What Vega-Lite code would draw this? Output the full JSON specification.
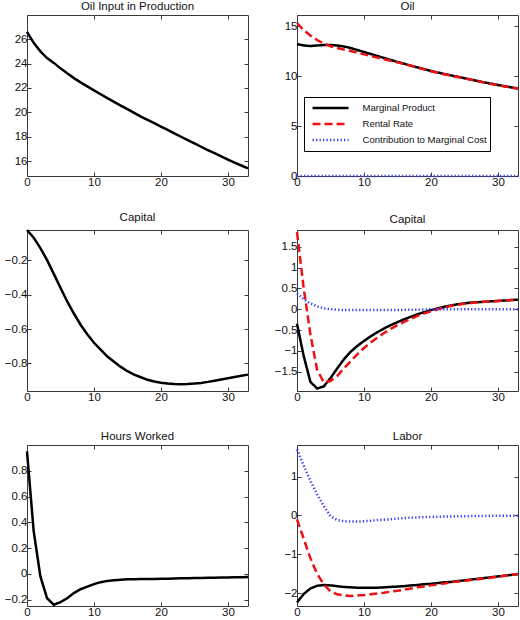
{
 "$schema": "https://vega.github.io/schema/vega-lite/v6.json",
 "padding": {"left": 3, "top": 0, "right": 0, "bottom": 0},
 "datasets": {
  "p1": [
   {"t":0,"v":26.6},{"t":1,"v":25.7},{"t":2,"v":25.0},{"t":3,"v":24.45},{"t":4,"v":24.05},{"t":5,"v":23.6},{"t":6,"v":23.2},{"t":7,"v":22.8},{"t":8,"v":22.45},{"t":9,"v":22.12},{"t":10,"v":21.8},{"t":11,"v":21.48},{"t":12,"v":21.16},{"t":13,"v":20.85},{"t":14,"v":20.55},{"t":15,"v":20.25},{"t":16,"v":19.95},{"t":17,"v":19.65},{"t":18,"v":19.38},{"t":19,"v":19.1},{"t":20,"v":18.83},{"t":21,"v":18.55},{"t":22,"v":18.27},{"t":23,"v":17.99},{"t":24,"v":17.71},{"t":25,"v":17.44},{"t":26,"v":17.17},{"t":27,"v":16.9},{"t":28,"v":16.64},{"t":29,"v":16.38},{"t":30,"v":16.12},{"t":31,"v":15.87},{"t":32,"v":15.63},{"t":33,"v":15.4}
  ],
  "p3": [
   {"t":0,"v":-0.025},{"t":1,"v":-0.07},{"t":2,"v":-0.13},{"t":3,"v":-0.2},{"t":4,"v":-0.28},{"t":5,"v":-0.36},{"t":6,"v":-0.44},{"t":7,"v":-0.51},{"t":8,"v":-0.575},{"t":9,"v":-0.63},{"t":10,"v":-0.68},{"t":11,"v":-0.72},{"t":12,"v":-0.76},{"t":13,"v":-0.79},{"t":14,"v":-0.82},{"t":15,"v":-0.845},{"t":16,"v":-0.865},{"t":17,"v":-0.88},{"t":18,"v":-0.895},{"t":19,"v":-0.905},{"t":20,"v":-0.912},{"t":21,"v":-0.917},{"t":22,"v":-0.92},{"t":23,"v":-0.921},{"t":24,"v":-0.92},{"t":25,"v":-0.917},{"t":26,"v":-0.913},{"t":27,"v":-0.907},{"t":28,"v":-0.9},{"t":29,"v":-0.893},{"t":30,"v":-0.886},{"t":31,"v":-0.879},{"t":32,"v":-0.872},{"t":33,"v":-0.865}
  ],
  "p5": [
   {"t":0,"v":0.95},{"t":1,"v":0.33},{"t":2,"v":-0.02},{"t":3,"v":-0.19},{"t":4,"v":-0.24},{"t":5,"v":-0.22},{"t":6,"v":-0.19},{"t":7,"v":-0.15},{"t":8,"v":-0.12},{"t":9,"v":-0.1},{"t":10,"v":-0.08},{"t":11,"v":-0.065},{"t":12,"v":-0.055},{"t":13,"v":-0.05},{"t":14,"v":-0.046},{"t":15,"v":-0.043},{"t":16,"v":-0.042},{"t":17,"v":-0.041},{"t":18,"v":-0.04},{"t":19,"v":-0.04},{"t":20,"v":-0.039},{"t":21,"v":-0.038},{"t":22,"v":-0.037},{"t":23,"v":-0.035},{"t":24,"v":-0.034},{"t":25,"v":-0.033},{"t":26,"v":-0.032},{"t":27,"v":-0.031},{"t":28,"v":-0.03},{"t":29,"v":-0.029},{"t":30,"v":-0.028},{"t":31,"v":-0.027},{"t":32,"v":-0.026},{"t":33,"v":-0.025}
  ],
  "p2": [
   {"t":0,"mp":13.2,"rr":15.3,"mc":0},{"t":1,"mp":13.05,"rr":14.6,"mc":0},{"t":2,"mp":13.0,"rr":14.05,"mc":0},{"t":3,"mp":13.05,"rr":13.6,"mc":0},{"t":4,"mp":13.1,"rr":13.25,"mc":0},{"t":5,"mp":13.1,"rr":12.98,"mc":0},{"t":6,"mp":13.05,"rr":12.8,"mc":0},{"t":7,"mp":12.95,"rr":12.65,"mc":0},{"t":8,"mp":12.8,"rr":12.5,"mc":0},{"t":9,"mp":12.6,"rr":12.33,"mc":0},{"t":10,"mp":12.4,"rr":12.16,"mc":0},{"t":11,"mp":12.2,"rr":12.0,"mc":0},{"t":12,"mp":12.0,"rr":11.84,"mc":0},{"t":13,"mp":11.8,"rr":11.68,"mc":0},{"t":14,"mp":11.6,"rr":11.52,"mc":0},{"t":15,"mp":11.41,"rr":11.36,"mc":0},{"t":16,"mp":11.22,"rr":11.2,"mc":0},{"t":17,"mp":11.04,"rr":11.02,"mc":0},{"t":18,"mp":10.86,"rr":10.84,"mc":0},{"t":19,"mp":10.68,"rr":10.66,"mc":0},{"t":20,"mp":10.5,"rr":10.48,"mc":0},{"t":21,"mp":10.35,"rr":10.33,"mc":0},{"t":22,"mp":10.2,"rr":10.18,"mc":0},{"t":23,"mp":10.06,"rr":10.04,"mc":0},{"t":24,"mp":9.92,"rr":9.9,"mc":0},{"t":25,"mp":9.78,"rr":9.76,"mc":0},{"t":26,"mp":9.64,"rr":9.62,"mc":0},{"t":27,"mp":9.5,"rr":9.48,"mc":0},{"t":28,"mp":9.36,"rr":9.34,"mc":0},{"t":29,"mp":9.23,"rr":9.21,"mc":0},{"t":30,"mp":9.1,"rr":9.08,"mc":0},{"t":31,"mp":8.98,"rr":8.96,"mc":0},{"t":32,"mp":8.86,"rr":8.84,"mc":0},{"t":33,"mp":8.75,"rr":8.73,"mc":0}
  ],
  "p4": [
   {"t":0,"mp":-0.35,"rr":1.85,"mc":0.38},{"t":1,"mp":-1.12,"rr":0.5,"mc":0.24},{"t":2,"mp":-1.74,"rr":-0.6,"mc":0.14},{"t":3,"mp":-1.9,"rr":-1.45,"mc":0.07},{"t":4,"mp":-1.85,"rr":-1.75,"mc":0.02},{"t":5,"mp":-1.65,"rr":-1.72,"mc":0.0},{"t":6,"mp":-1.42,"rr":-1.6,"mc":-0.01},{"t":7,"mp":-1.2,"rr":-1.42,"mc":-0.02},{"t":8,"mp":-1.02,"rr":-1.25,"mc":-0.02},{"t":9,"mp":-0.88,"rr":-1.08,"mc":-0.02},{"t":10,"mp":-0.76,"rr":-0.93,"mc":-0.02},{"t":11,"mp":-0.65,"rr":-0.8,"mc":-0.02},{"t":12,"mp":-0.55,"rr":-0.68,"mc":-0.02},{"t":13,"mp":-0.46,"rr":-0.57,"mc":-0.02},{"t":14,"mp":-0.38,"rr":-0.47,"mc":-0.02},{"t":15,"mp":-0.31,"rr":-0.38,"mc":-0.02},{"t":16,"mp":-0.24,"rr":-0.3,"mc":-0.015},{"t":17,"mp":-0.18,"rr":-0.23,"mc":-0.01},{"t":18,"mp":-0.12,"rr":-0.16,"mc":-0.01},{"t":19,"mp":-0.07,"rr":-0.1,"mc":-0.005},{"t":20,"mp":-0.02,"rr":-0.05,"mc":0},{"t":21,"mp":0.02,"rr":0.0,"mc":0},{"t":22,"mp":0.06,"rr":0.04,"mc":0},{"t":23,"mp":0.09,"rr":0.08,"mc":0},{"t":24,"mp":0.12,"rr":0.11,"mc":0},{"t":25,"mp":0.14,"rr":0.13,"mc":0},{"t":26,"mp":0.16,"rr":0.15,"mc":0},{"t":27,"mp":0.17,"rr":0.17,"mc":0},{"t":28,"mp":0.18,"rr":0.18,"mc":0},{"t":29,"mp":0.19,"rr":0.19,"mc":0},{"t":30,"mp":0.2,"rr":0.2,"mc":0},{"t":31,"mp":0.21,"rr":0.21,"mc":0},{"t":32,"mp":0.22,"rr":0.22,"mc":0},{"t":33,"mp":0.23,"rr":0.23,"mc":0}
  ],
  "p6": [
   {"t":0,"mp":-2.24,"rr":-0.1,"mc":1.7},{"t":1,"mp":-2.02,"rr":-0.6,"mc":1.28},{"t":2,"mp":-1.88,"rr":-1.1,"mc":0.89},{"t":3,"mp":-1.81,"rr":-1.5,"mc":0.54},{"t":4,"mp":-1.79,"rr":-1.78,"mc":0.24},{"t":5,"mp":-1.8,"rr":-1.95,"mc":-0.02},{"t":6,"mp":-1.82,"rr":-2.03,"mc":-0.12},{"t":7,"mp":-1.84,"rr":-2.06,"mc":-0.15},{"t":8,"mp":-1.85,"rr":-2.07,"mc":-0.16},{"t":9,"mp":-1.86,"rr":-2.06,"mc":-0.16},{"t":10,"mp":-1.86,"rr":-2.05,"mc":-0.15},{"t":11,"mp":-1.86,"rr":-2.03,"mc":-0.14},{"t":12,"mp":-1.86,"rr":-2.01,"mc":-0.12},{"t":13,"mp":-1.85,"rr":-1.99,"mc":-0.11},{"t":14,"mp":-1.84,"rr":-1.96,"mc":-0.1},{"t":15,"mp":-1.83,"rr":-1.94,"mc":-0.08},{"t":16,"mp":-1.82,"rr":-1.91,"mc":-0.07},{"t":17,"mp":-1.8,"rr":-1.88,"mc":-0.06},{"t":18,"mp":-1.79,"rr":-1.85,"mc":-0.05},{"t":19,"mp":-1.77,"rr":-1.83,"mc":-0.045},{"t":20,"mp":-1.76,"rr":-1.8,"mc":-0.04},{"t":21,"mp":-1.74,"rr":-1.77,"mc":-0.035},{"t":22,"mp":-1.72,"rr":-1.75,"mc":-0.03},{"t":23,"mp":-1.71,"rr":-1.72,"mc":-0.027},{"t":24,"mp":-1.69,"rr":-1.7,"mc":-0.024},{"t":25,"mp":-1.67,"rr":-1.68,"mc":-0.021},{"t":26,"mp":-1.65,"rr":-1.66,"mc":-0.018},{"t":27,"mp":-1.63,"rr":-1.64,"mc":-0.015},{"t":28,"mp":-1.61,"rr":-1.62,"mc":-0.013},{"t":29,"mp":-1.59,"rr":-1.6,"mc":-0.011},{"t":30,"mp":-1.57,"rr":-1.58,"mc":-0.01},{"t":31,"mp":-1.55,"rr":-1.55,"mc":-0.01},{"t":32,"mp":-1.53,"rr":-1.53,"mc":-0.01},{"t":33,"mp":-1.51,"rr":-1.51,"mc":-0.01}
  ]
 },
 "columns": 2,
 "spacing": {"row": 54, "column": 49},
 "bounds": "flush",
 "resolve": {
  "scale": {"color": "independent", "strokeDash": "independent", "strokeWidth": "independent"},
  "legend": {"color": "independent", "strokeDash": "independent", "strokeWidth": "independent"}
 },
 "concat": [
  {
   "title": "Oil Input in Production",
   "width": 221, "height": 161,
   "data": {"name": "p1"},
   "layer": [
    {"mark": {"type": "line", "color": "black", "strokeWidth": 2.5},
     "encoding": {
      "x": {"field": "t", "type": "quantitative", "title": null, "scale": {"domain": [0, 33], "nice": false, "zero": false}, "axis": {"values": [0, 10, 20, 30], "format": "~r"}},
      "y": {"field": "v", "type": "quantitative", "title": null, "scale": {"domain": [14.77, 27.98], "nice": false, "zero": false}, "axis": {"values": [16, 18, 20, 22, 24, 26], "format": "~r"}}
     }},
    {"mark": {"type": "line", "opacity": 0, "strokeWidth": 0},
     "encoding": {
      "x": {"field": "t", "type": "quantitative", "title": null, "scale": {"domain": [0, 33], "nice": false, "zero": false}, "axis": {"orient": "top", "values": [0, 10, 20, 30], "labels": false}},
      "y": {"field": "v", "type": "quantitative", "title": null, "scale": {"domain": [14.77, 27.98], "nice": false, "zero": false}, "axis": {"orient": "right", "values": [16, 18, 20, 22, 24, 26], "labels": false}}
     }}
   ],
   "resolve": {"axis": {"x": "independent", "y": "independent"}}
  },
  {
   "title": "Oil",
   "width": 221, "height": 161,
   "data": {"name": "p2"},
   "transform": [{"fold": ["mp", "rr", "mc"], "as": ["series", "v"]}],
   "layer": [
    {"mark": {"type": "line"},
     "encoding": {
      "x": {"field": "t", "type": "quantitative", "title": null, "scale": {"domain": [0, 33], "nice": false, "zero": false}, "axis": {"values": [0, 10, 20, 30], "format": "~r"}},
      "y": {"field": "v", "type": "quantitative", "title": null, "scale": {"domain": [0, 16.1], "nice": false, "zero": false}, "axis": {"values": [0, 5, 10, 15], "format": "~r"}},
      "color": {"field": "series", "type": "nominal", "scale": {"domain": ["mp", "rr", "mc"], "range": ["#000000", "#ee1111", "#3c3cff"]},
       "legend": {"orient": "none", "legendX": 7, "legendY": 82, "title": null, "symbolType": "stroke", "symbolSize": 1296, "clipHeight": 16, "rowPadding": 0, "padding": 3, "symbolOffset": 4, "labelOffset": 12.5, "strokeColor": "#000000", "fillColor": "#ffffff", "labelFontSize": 9.6, "labelColor": "#111111",
        "labelExpr": "datum.label == 'mp' ? 'Marginal Product' : datum.label == 'rr' ? 'Rental Rate' : 'Contribution to Marginal Cost'"}},
      "strokeDash": {"field": "series", "type": "nominal", "scale": {"domain": ["mp", "rr", "mc"], "range": [[1, 0], [8, 4], [1.3, 2.2]]}},
      "strokeWidth": {"field": "series", "type": "nominal", "scale": {"domain": ["mp", "rr", "mc"], "range": [2.5, 2.5, 1.6]}}
     }},
    {"mark": {"type": "line", "opacity": 0, "strokeWidth": 0},
     "encoding": {
      "x": {"field": "t", "type": "quantitative", "title": null, "scale": {"domain": [0, 33], "nice": false, "zero": false}, "axis": {"orient": "top", "values": [0, 10, 20, 30], "labels": false}},
      "y": {"field": "v", "type": "quantitative", "title": null, "scale": {"domain": [0, 16.1], "nice": false, "zero": false}, "axis": {"orient": "right", "values": [0, 5, 10, 15], "labels": false}}
     }}
   ],
   "resolve": {"axis": {"x": "independent", "y": "independent"}}
  },
  {
   "title": "Capital",
   "width": 221, "height": 161,
   "data": {"name": "p3"},
   "layer": [
    {"mark": {"type": "line", "color": "black", "strokeWidth": 2.5},
     "encoding": {
      "x": {"field": "t", "type": "quantitative", "title": null, "scale": {"domain": [0, 33], "nice": false, "zero": false}, "axis": {"values": [0, 10, 20, 30], "format": "~r"}},
      "y": {"field": "v", "type": "quantitative", "title": null, "scale": {"domain": [-0.96, -0.025], "nice": false, "zero": false}, "axis": {"values": [-0.8, -0.6, -0.4, -0.2], "format": "~r"}}
     }},
    {"mark": {"type": "line", "opacity": 0, "strokeWidth": 0},
     "encoding": {
      "x": {"field": "t", "type": "quantitative", "title": null, "scale": {"domain": [0, 33], "nice": false, "zero": false}, "axis": {"orient": "top", "values": [0, 10, 20, 30], "labels": false}},
      "y": {"field": "v", "type": "quantitative", "title": null, "scale": {"domain": [-0.96, -0.025], "nice": false, "zero": false}, "axis": {"orient": "right", "values": [-0.8, -0.6, -0.4, -0.2], "labels": false}}
     }}
   ],
   "resolve": {"axis": {"x": "independent", "y": "independent"}}
  },
  {
   "title": "Capital",
   "width": 221, "height": 161,
   "data": {"name": "p4"},
   "transform": [{"fold": ["mp", "rr", "mc"], "as": ["series", "v"]}],
   "layer": [
    {"mark": {"type": "line"},
     "encoding": {
      "x": {"field": "t", "type": "quantitative", "title": null, "scale": {"domain": [0, 33], "nice": false, "zero": false}, "axis": {"values": [0, 10, 20, 30], "format": "~r"}},
      "y": {"field": "v", "type": "quantitative", "title": null, "scale": {"domain": [-1.96, 1.9], "nice": false, "zero": false}, "axis": {"values": [-1.5, -1, -0.5, 0, 0.5, 1, 1.5], "format": "~r"}},
      "color": {"field": "series", "type": "nominal", "legend": null, "scale": {"domain": ["mp", "rr", "mc"], "range": ["#000000", "#ee1111", "#3c3cff"]}},
      "strokeDash": {"field": "series", "type": "nominal", "legend": null, "scale": {"domain": ["mp", "rr", "mc"], "range": [[1, 0], [8, 4], [1.3, 2.2]]}},
      "strokeWidth": {"field": "series", "type": "nominal", "legend": null, "scale": {"domain": ["mp", "rr", "mc"], "range": [2.5, 2.5, 1.6]}}
     }},
    {"mark": {"type": "line", "opacity": 0, "strokeWidth": 0},
     "encoding": {
      "x": {"field": "t", "type": "quantitative", "title": null, "scale": {"domain": [0, 33], "nice": false, "zero": false}, "axis": {"orient": "top", "values": [0, 10, 20, 30], "labels": false}},
      "y": {"field": "v", "type": "quantitative", "title": null, "scale": {"domain": [-1.96, 1.9], "nice": false, "zero": false}, "axis": {"orient": "right", "values": [-1.5, -1, -0.5, 0, 0.5, 1, 1.5], "labels": false}}
     }}
   ],
   "resolve": {"axis": {"x": "independent", "y": "independent"}}
  },
  {
   "title": "Hours Worked",
   "width": 221, "height": 161,
   "data": {"name": "p5"},
   "layer": [
    {"mark": {"type": "line", "color": "black", "strokeWidth": 2.5},
     "encoding": {
      "x": {"field": "t", "type": "quantitative", "title": null, "scale": {"domain": [0, 33], "nice": false, "zero": false}, "axis": {"values": [0, 10, 20, 30], "format": "~r"}},
      "y": {"field": "v", "type": "quantitative", "title": null, "scale": {"domain": [-0.25, 1.0], "nice": false, "zero": false}, "axis": {"values": [-0.2, 0, 0.2, 0.4, 0.6, 0.8], "format": "~r"}}
     }},
    {"mark": {"type": "line", "opacity": 0, "strokeWidth": 0},
     "encoding": {
      "x": {"field": "t", "type": "quantitative", "title": null, "scale": {"domain": [0, 33], "nice": false, "zero": false}, "axis": {"orient": "top", "values": [0, 10, 20, 30], "labels": false}},
      "y": {"field": "v", "type": "quantitative", "title": null, "scale": {"domain": [-0.25, 1.0], "nice": false, "zero": false}, "axis": {"orient": "right", "values": [-0.2, 0, 0.2, 0.4, 0.6, 0.8], "labels": false}}
     }}
   ],
   "resolve": {"axis": {"x": "independent", "y": "independent"}}
  },
  {
   "title": "Labor",
   "width": 221, "height": 161,
   "data": {"name": "p6"},
   "transform": [{"fold": ["mp", "rr", "mc"], "as": ["series", "v"]}],
   "layer": [
    {"mark": {"type": "line"},
     "encoding": {
      "x": {"field": "t", "type": "quantitative", "title": null, "scale": {"domain": [0, 33], "nice": false, "zero": false}, "axis": {"values": [0, 10, 20, 30], "format": "~r"}},
      "y": {"field": "v", "type": "quantitative", "title": null, "scale": {"domain": [-2.33, 1.81], "nice": false, "zero": false}, "axis": {"values": [-2, -1, 0, 1], "format": "~r"}},
      "color": {"field": "series", "type": "nominal", "legend": null, "scale": {"domain": ["mp", "rr", "mc"], "range": ["#000000", "#ee1111", "#3c3cff"]}},
      "strokeDash": {"field": "series", "type": "nominal", "legend": null, "scale": {"domain": ["mp", "rr", "mc"], "range": [[1, 0], [8, 4], [1.3, 2.2]]}},
      "strokeWidth": {"field": "series", "type": "nominal", "legend": null, "scale": {"domain": ["mp", "rr", "mc"], "range": [2.5, 2.5, 1.6]}}
     }},
    {"mark": {"type": "line", "opacity": 0, "strokeWidth": 0},
     "encoding": {
      "x": {"field": "t", "type": "quantitative", "title": null, "scale": {"domain": [0, 33], "nice": false, "zero": false}, "axis": {"orient": "top", "values": [0, 10, 20, 30], "labels": false}},
      "y": {"field": "v", "type": "quantitative", "title": null, "scale": {"domain": [-2.33, 1.81], "nice": false, "zero": false}, "axis": {"orient": "right", "values": [-2, -1, 0, 1], "labels": false}}
     }}
   ],
   "resolve": {"axis": {"x": "independent", "y": "independent"}}
  }
 ],
 "config": {
  "font": "Liberation Sans",
  "view": {"stroke": "#3a3a3a", "strokeWidth": 1},
  "axis": {"domain": false, "grid": false, "tickSize": -4, "tickColor": "#3a3a3a", "tickWidth": 1, "labelFontSize": 11.5, "labelColor": "#111111", "labelPadding": 4, "labelFlush": false, "labelOverlap": false},
  "title": {"fontSize": 11.5, "fontWeight": "normal", "color": "#111111", "offset": 2},
  "legend": {"labelFontSize": 9.6, "labelColor": "#111111"}
 }
}
